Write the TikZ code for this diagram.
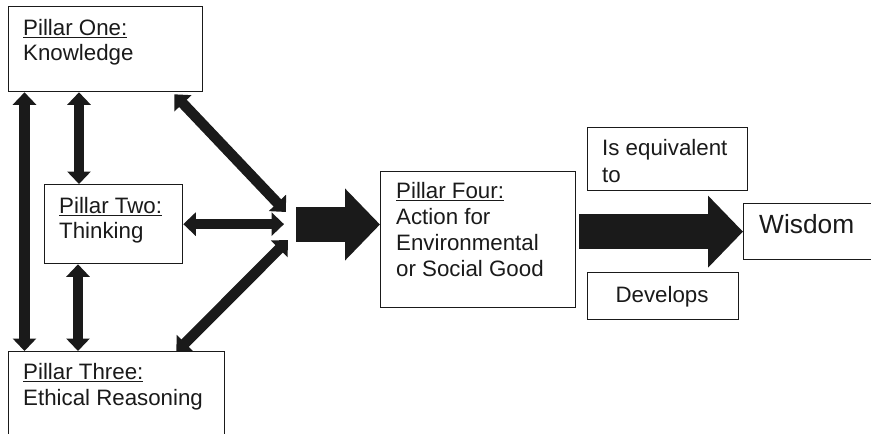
\documentclass[tikz,border=0pt]{standalone}
\usepackage{fontspec}
\setmainfont{Liberation Sans}
\usetikzlibrary{arrows.meta,calc}
\definecolor{ink}{HTML}{1A1A1A}
\newcommand{\pillarhead}[1]{\setbox0\hbox{#1}\rlap{\rule[-3.2pt]{\wd0}{1.3pt}}\box0}
\tikzset{
  box/.style={draw=ink, line width=1.3pt, rectangle, inner sep=0pt, anchor=north west},
  txt/.style={text=ink, font=\fontsize{22.3}{26}\selectfont, inner sep=0pt, anchor=base west},
  bigtxt/.style={txt, font=\fontsize{26.3}{30}\selectfont},
  link/.style={draw=ink, line width=10.5pt,
    {Triangle[length=12.5pt,width=23pt]}-{Triangle[length=12.5pt,width=23pt]}},
  flow/.style={draw=ink, line width=35pt, -{Triangle[length=35pt,width=70pt]}}
}
\begin{document}
\begin{tikzpicture}[x=1pt,y=-1pt]
  \useasboundingbox (0,0) rectangle (871,434);
  \clip (0,0) rectangle (871,434);
  \fill[white] (0,0) rectangle (871,434);

  % boxes
  \node[box, minimum width=194, minimum height=85] (p1) at (8,6) {};
  \node[box, minimum width=138, minimum height=79] (p2) at (44,184) {};
  \node[box, minimum width=216, minimum height=110] (p3) at (8,351) {};
  \node[box, minimum width=195, minimum height=136] (p4) at (380,171) {};
  \node[box, minimum width=160, minimum height=63] (eq) at (587,127) {};
  \node[box, minimum width=151, minimum height=47] (dev) at (587,272) {};
  \node[box, minimum width=160, minimum height=56] (wis) at (743,203) {};

  % texts
  \node[txt] (p1a) at (23,35) {\pillarhead{Pillar One:}};
  \node[txt] (p1b) at (23,60) {Knowledge};
  \node[txt] (p2a) at (59,213) {\pillarhead{Pillar Two:}};
  \node[txt] (p2b) at (59,238) {Thinking};
  \node[txt] (p3a) at (23,379) {\pillarhead{Pillar Three:}};
  \node[txt] (p3b) at (23,405) {Ethical Reasoning};
  \node[txt] (p4a) at (396,198) {\pillarhead{Pillar Four:}};
  \node[txt] (p4b) at (396,224) {Action for};
  \node[txt] (p4c) at (396,250) {Environmental};
  \node[txt] (p4d) at (396,276) {or Social Good};
  \node[txt] (eqa) at (602,155) {Is equivalent};
  \node[txt] (eqb) at (602,182) {to};
  \node[txt, anchor=base] (deva) at (662,302) {Develops};
  \node[bigtxt] (wisa) at (759,233) {Wisdom};

  % meeting points of the three pillars
  \coordinate (hubA) at (286,212);
  \coordinate (hubB) at (284,226);
  \coordinate (hubC) at (288,240);

  % links among pillars one to three
  \draw[link] ($(p1.south west)+(16.5,0)$) -- ($(p3.north west)+(16.5,0)$);
  \draw[link] ($(p1.south west)+(71,0)$) -- ($(p2.north west)+(35,0)$);
  \draw[link] ($(p2.south west)+(34,0)$) -- ($(p3.north west)+(70,0)$);
  \draw[link] (p2.east) -- (p2.east -| hubB);
  \draw[link] ($(p1.south east)+(-29,2)$) -- (hubA);
  \draw[link] ($(p3.north east)+(-49,1)$) -- (hubC);

  % big arrows
  \coordinate (flowA) at (296,224.5);
  \draw[flow] (flowA) -- (flowA -| p4.west);
  \draw[flow] ($(wis.west -| p4.east)+(3,0)$) -- (wis.west);
\end{tikzpicture}
\end{document}
